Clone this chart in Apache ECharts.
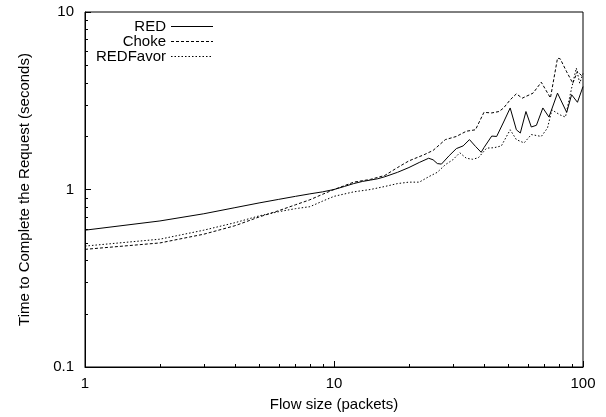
<!DOCTYPE html>
<html lang="en">
<head>
    <meta charset="UTF-8">
    <title>Flow size vs request time</title>
    <script src="https://cdn.jsdelivr.net/npm/echarts@6/dist/echarts.min.js"></script>
</head>
<style>
html,body{margin: 0;padding: 0;background: #fff}
#chartBox{width: 606px;height: 417px}
</style>
<body>
    <div id="chartBox"></div>
</body>
<script>
// series names
const seriesNames = ['RED', 'Choke', 'REDFavor'];

// [flow size, seconds]
const redData = [
    [1,0.59],[2,0.665],[3,0.73],[4,0.79],[5,0.84],[6,0.88],[7,0.915],[8,0.945],[9,0.97],[10,1.0],
    [11,1.04],[12,1.08],[13,1.11],[14,1.13],[15,1.15],[16,1.18],[18,1.25],[20,1.33],[22,1.42],[24,1.5],
    [25,1.47],[26,1.40],[27,1.39],[29,1.55],[31,1.70],[33,1.76],[35,1.91],[37,1.75],[39,1.62],[40,1.72],
    [43,2.0],[45,1.99],[48,2.4],[51,2.88],[54,2.17],[56,2.08],[59,2.75],[62,2.25],[65,2.3],[69,2.88],
    [73,2.56],[79,3.49],[86,2.72],[90,3.42],[95,3.1],[100,3.8]
];
const chokeData = [
    [1,0.46],[2,0.50],[3,0.56],[4,0.625],[5,0.70],[6,0.76],[7,0.82],[8,0.875],[9,0.94],[10,1.0],
    [11,1.05],[12,1.1],[14,1.14],[16,1.2],[18,1.33],[20,1.45],[23,1.57],[25,1.66],[28,1.91],[31,1.99],
    [34,2.13],[37,2.17],[40,2.72],[43,2.7],[46,2.75],[48,2.88],[51,3.2],[54,3.46],[57,3.27],[63,3.49],
    [68,4.02],[74,3.28],[79,5.49],[81,5.45],[86,4.6],[91,3.97],[95,4.62],[100,4.3]
];
const favorData = [
    [1,0.48],[2,0.525],[3,0.59],[4,0.65],[5,0.71],[6,0.75],[7,0.78],[8,0.80],[9,0.86],[10,0.915],
    [12,0.97],[14,1.0],[16,1.04],[18,1.08],[20,1.10],[22,1.10],[24,1.18],[26,1.25],[28,1.38],[30,1.47],
    [32,1.61],[34,1.5],[36,1.48],[38,1.51],[41,1.71],[44,1.72],[47,1.76],[51,2.17],[54,1.91],[58,1.83],
    [62,2.04],[68,1.99],[72,2.22],[75,2.81],[81,2.63],[85,2.56],[90,3.72],[94,4.83],[97,3.97],[100,4.5]
];

// minor tick values (log axes)
const xMinor = [2,3,4,5,6,7,8,9,20,30,40,50,60,70,80,90];
const yMinor = [0.2,0.3,0.4,0.5,0.6,0.7,0.8,0.9,2,3,4,5,6,7,8,9];

const fontFamily = '"Liberation Sans", Arial, sans-serif';

function lineSeries(name, data, type){
    return {
        type: 'line',
        name: name,
        data: data,
        symbol: 'none',
        animation: false,
        itemStyle: {color: '#000'},
        lineStyle: {color: '#000', width: 1, type: type}
    };
}

let chartObj = echarts.init(document.getElementById('chartBox'), null, {renderer: 'canvas'});

const axisCommon = {
    type: 'log',
    logBase: 10,
    axisLine: {lineStyle: {color: '#000', width: 1}},
    axisTick: {show: true, inside: true, length: 6, lineStyle: {color: '#000', width: 1}},
    splitLine: {show: false},
    axisLabel: {color: '#000', fontSize: 15, fontFamily: fontFamily},
    nameTextStyle: {color: '#000', fontSize: 15, fontFamily: fontFamily},
    nameLocation: 'middle'
};

chartObj.setOption({
    animation: false,
    grid: {left: 85, right: 23, top: 12, bottom: 49, show: true, borderColor: '#000', borderWidth: 1},
    legend: {
        orient: 'vertical',
        align: 'right',
        left: 96,
        top: 19,
        padding: 0,
        itemGap: 0,
        itemWidth: 42,
        itemHeight: 15,
        itemStyle: {opacity: 0},
        lineStyle: {width: 1},
        textStyle: {color: '#000', fontSize: 15, fontFamily: fontFamily, lineHeight: 15},
        data: seriesNames
    },
    xAxis: Object.assign({}, axisCommon, {
        min: 1, max: 100,
        name: 'Flow size (packets)',
        nameGap: 30,
        axisLabel: Object.assign({}, axisCommon.axisLabel, {margin: 9})
    }),
    yAxis: Object.assign({}, axisCommon, {
        min: 0.1, max: 10,
        name: 'Time to Complete the Request (seconds)',
        nameGap: 53,
        axisLabel: Object.assign({}, axisCommon.axisLabel, {margin: 11})
    }),
    series: [
        lineSeries(seriesNames[0], redData, 'solid'),
        lineSeries(seriesNames[1], chokeData, [3, 2]),
        lineSeries(seriesNames[2], favorData, [1.5, 2])
    ]
});

// minor ticks drawn at positions given by the axes
const x0 = chartObj.convertToPixel({xAxisIndex: 0}, 1);
const y0 = chartObj.convertToPixel({yAxisIndex: 0}, 0.1);
const minorTicks = [];
xMinor.forEach(v => {
    const px = Math.round(chartObj.convertToPixel({xAxisIndex: 0}, v)) + 0.5;
    minorTicks.push({type: 'line', shape: {x1: px, y1: y0, x2: px, y2: y0 - 3},
        style: {stroke: '#000', lineWidth: 1}, silent: true});
});
yMinor.forEach(v => {
    const py = Math.round(chartObj.convertToPixel({yAxisIndex: 0}, v)) + 0.5;
    minorTicks.push({type: 'line', shape: {x1: x0, y1: py, x2: x0 + 3, y2: py},
        style: {stroke: '#000', lineWidth: 1}, silent: true});
});
chartObj.setOption({graphic: {elements: minorTicks}});
</script>
</html>
